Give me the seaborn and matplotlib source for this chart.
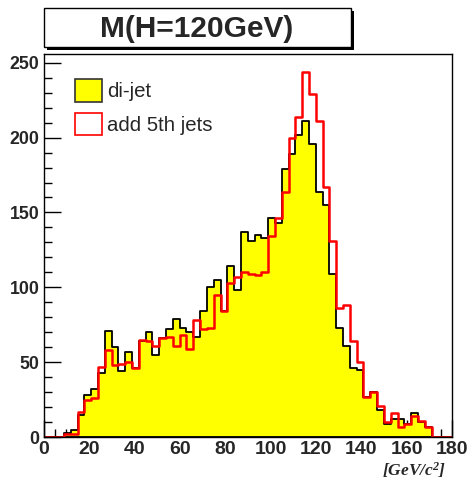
import numpy as np
import pandas as pd
import matplotlib
matplotlib.use("Agg")
import matplotlib.pyplot as plt
from matplotlib.patches import Rectangle, Patch
from matplotlib.ticker import MultipleLocator
import seaborn as sns

# ---- data (counts per 3 GeV bin, 0..180 GeV) ----
bin_edges = np.arange(0, 181, 3)
dijet = [0, 0, 0, 3, 5, 15, 28, 32, 43, 71,
         60, 44, 57, 46, 64, 70, 55, 66, 72, 79,
         73, 70, 67, 84, 100, 105, 84, 114, 98, 137,
         131, 135, 133, 146, 143, 179, 189, 202, 211, 196,
         164, 155, 109, 73, 61, 46, 45, 27, 30, 18,
         9, 12, 12, 9, 16, 10, 7, 0, 0, 0]
add5th = [0, 0, 0, 2, 2, 17, 25, 26, 47, 58,
          48, 49, 50, 46, 65, 64, 61, 66, 67, 61,
          68, 59, 78, 72, 73, 95, 84, 103, 107, 110,
          109, 108, 110, 134, 146, 164, 200, 214, 244, 229,
          211, 167, 131, 86, 88, 64, 50, 27, 30, 21,
          10, 16, 7, 9, 14, 11, 7, 0, 0, 0]
labels = ["di-jet", "add 5th jets"]
title = "M(H=120GeV)"
xunit = "[GeV/c$^{2}$]"

centers = (bin_edges[:-1] + bin_edges[1:]) / 2
df = pd.DataFrame({"mass": centers, "dijet": dijet, "add5th": add5th})

sns.set_theme(style="white")
plt.rcParams["font.family"] = ["Liberation Sans", "DejaVu Sans"]
plt.rcParams["mathtext.default"] = "regular"

W, H = 467, 479
fig = plt.figure(figsize=(W / 100, H / 100), dpi=100)
ax = fig.add_axes([43.5 / W, (H - 437) / H, (452 - 43.5) / W, (437 - 53.5) / H])

sns.histplot(data=df, x="mass", weights="dijet", binwidth=3, binrange=(0, 180),
             element="step", fill=True, color="#ffff00", edgecolor="black",
             linewidth=1.3, alpha=1, ax=ax)
sns.histplot(data=df, x="mass", weights="add5th", binwidth=3, binrange=(0, 180),
             element="step", fill=False, color="#ff0000", linewidth=1.8, ax=ax)

ax.set_xlim(0, 180)
ax.set_ylim(0, max(add5th) * 1.05)
ax.set_xlabel("")
ax.set_ylabel("")
ax.set_axisbelow(True)

for s in ax.spines.values():
    s.set_visible(True)
    s.set_color("black")
    s.set_linewidth(1.0)

ax.xaxis.set_major_locator(MultipleLocator(20))
ax.xaxis.set_minor_locator(MultipleLocator(5))
ax.yaxis.set_major_locator(MultipleLocator(50))
ax.yaxis.set_minor_locator(MultipleLocator(10))
ax.tick_params(axis="both", which="both", direction="in", color="black",
               top=False, right=False, bottom=True, left=True)
ax.tick_params(axis="both", which="major", length=12, width=1)
ax.tick_params(axis="both", which="minor", length=6, width=1)
ax.tick_params(axis="y", which="major", pad=3, labelsize=12.8)
ax.tick_params(axis="x", which="major", pad=3, labelsize=14)
for lab in ax.get_xticklabels() + ax.get_yticklabels():
    lab.set_fontweight("bold")

handles = [Patch(facecolor="#ffff00", edgecolor="#333333", linewidth=1.2),
           Patch(facecolor="none", edgecolor="#ff0000", linewidth=1.2)]
ax.legend(handles, labels, loc="upper left", bbox_to_anchor=(0.0771, 0.9335),
          frameon=False, fontsize=14.7, handlelength=1.32, handleheight=1.32,
          handletextpad=0.27, labelspacing=0.56, borderaxespad=0, borderpad=0)

# title box with shadow
fig.add_artist(Rectangle((47 / W, (H - 49.5) / H), (351 - 44) / W, (46 - 8) / H,
                         transform=fig.transFigure, facecolor="black", edgecolor="none"))
fig.add_artist(Rectangle((44 / W, (H - 46.5) / H), (351 - 44) / W, (46 - 8) / H,
                         transform=fig.transFigure, facecolor="white", edgecolor="black",
                         linewidth=1.0))
fig.text(197 / W, (H - 36.7) / H, title, ha="center", va="baseline",
         fontsize=21.5, fontweight="bold")

fig.text(446 / W, (H - 475.5) / H, xunit, ha="right", va="baseline",
         fontsize=12.5, fontweight="bold", fontstyle="italic",
         family=["Liberation Serif", "DejaVu Serif"])

fig.savefig("out.png", dpi=100, facecolor="white")
